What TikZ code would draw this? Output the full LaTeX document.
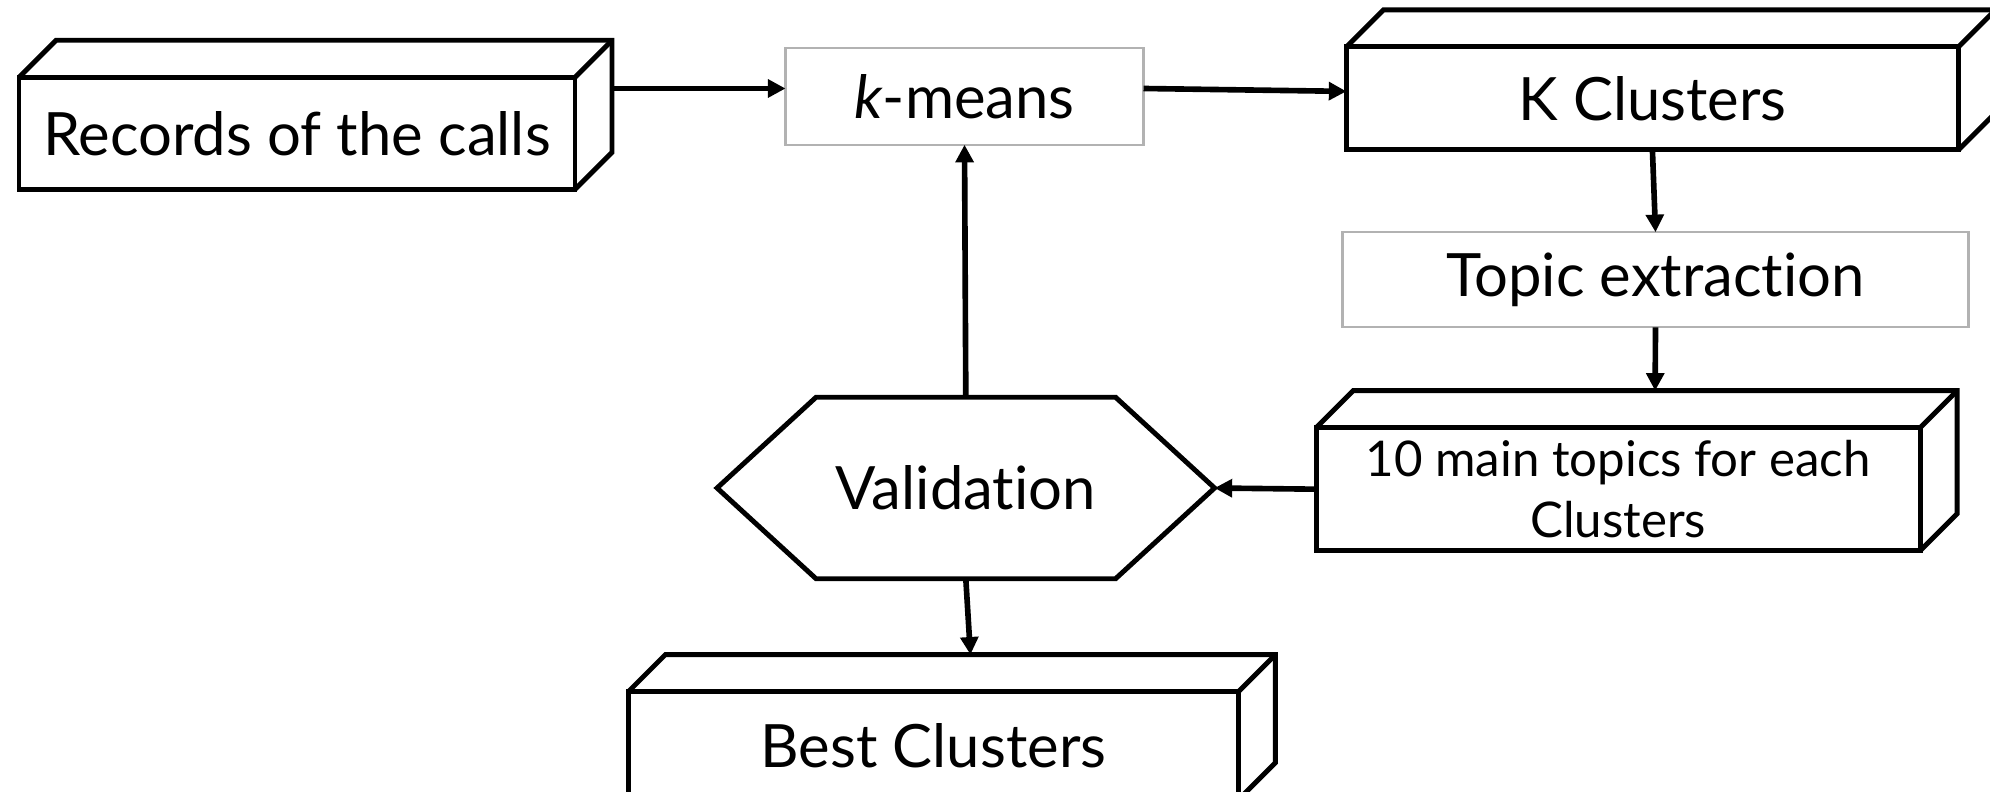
\documentclass[tikz,border=0pt]{standalone}
\usepackage{fontspec}
\setmainfont[Ligatures=NoCommon]{Lato}
\usepackage{tikz}
\usetikzlibrary{positioning}
\usetikzlibrary{arrows.meta}
\newcommand\boxdepth[1]{
  \draw[line width=1.4pt] (#1.north west) -- ++(0.37,0.37) -- ([shift={(0.37,0.37)}]#1.north east) -- ([shift={(0.37,0.37)}]#1.south east) -- (#1.south east);
  \draw[line width=1.4pt] (#1.north east) -- ++(0.37,0.37);
}

\begin{document}
\begin{tikzpicture}[
	solidbox/.style={draw, line width=1.4pt, inner sep=0pt, outer sep=0pt, align=center, font=\fontsize{17}{21}\selectfont},
	greybox/.style={draw=gray!60, line width=0.6pt, inner sep=0pt, outer sep=0pt, font=\fontsize{17}{21}\selectfont},
	flow/.style={line width=1.6pt, -{Triangle[length=5pt,width=5pt]}}]
		\useasboundingbox (0,0) rectangle (19.9,-7.92);
		\node[solidbox, minimum width=5.56cm, minimum height=1.12cm] (records) at (2.97,-1.333) {Records of the calls};
		\boxdepth{records}
		\node[greybox, minimum width=3.58cm, minimum height=0.965cm] (kmeans) at (9.645,-0.965) {\textit{k}-means};
		\node[solidbox, minimum width=6.12cm, minimum height=1.03cm] (kclus) at (16.524,-0.984) {K Clusters};
		\boxdepth{kclus}
		\node[greybox, minimum width=6.26cm, minimum height=0.952cm] (topic) at (16.555,-2.798) {Topic extraction};
		\node[solidbox, minimum width=6.04cm, minimum height=1.23cm, font=\fontsize{14}{17.5}\selectfont] (main) at (16.181,-4.892) {10 main topics for each\\Clusters};
		\boxdepth{main}
		\node[minimum width=4.975cm, minimum height=1.815cm, inner sep=0pt, outer sep=0pt, font=\fontsize{17}{21}\selectfont] (valid) at (9.658,-4.88) {Validation};
		\draw[line width=1.4pt] (valid.west) -- ([xshift=0.99cm]valid.north west) -- ([xshift=-0.99cm]valid.north east) -- (valid.east) -- ([xshift=-0.99cm]valid.south east) -- ([xshift=0.99cm]valid.south west) -- cycle;
		\node[solidbox, minimum width=6.1cm, minimum height=1.08cm] (best) at (9.334,-7.456) {Best Clusters};
		\boxdepth{best}
		% connectors
		\coordinate (kin) at ([yshift=0.08cm]kmeans.west);
		\draw[flow] ([xshift=0.37cm]records.east |- kin) -- (kin);
		\draw[flow] ([yshift=0.08cm]kmeans.east) -- ([yshift=0.07cm]kclus.west);
		\draw[flow] (kclus.south) -- (topic.north);
		\draw[flow] (topic.south) -- ([shift={(0.37,0.37)}]main.north);
		\draw[flow] (main.west) -- (valid.east);
		\draw[flow] (valid.north) -- (kmeans.south);
		\draw[flow] (valid.south) -- ([shift={(0.37,0.37)}]best.north);
\end{tikzpicture}
\end{document}
